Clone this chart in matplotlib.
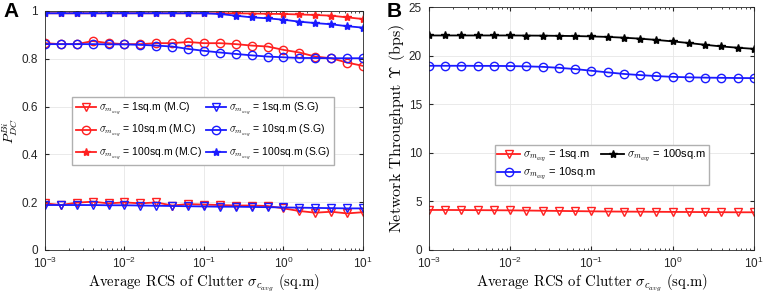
import numpy as np
import matplotlib
matplotlib.use('Agg')
import matplotlib.pyplot as plt

plt.rcParams['font.family'] = ['Liberation Sans', 'DejaVu Sans']
plt.rcParams['mathtext.fontset'] = 'cm'

# x axis: average clutter RCS (sq.m), 5 points per decade
rcs = [1e-3, 1.585e-3, 2.512e-3, 3.981e-3, 6.310e-3,
       1e-2, 1.585e-2, 2.512e-2, 3.981e-2, 6.310e-2,
       1e-1, 1.585e-1, 2.512e-1, 3.981e-1, 6.310e-1,
       1e0, 1.585e0, 2.512e0, 3.981e0, 6.310e0, 1e1]

# Panel A: probability of detection
mc_1 = [0.195, 0.188, 0.198, 0.202, 0.195, 0.199, 0.195, 0.199, 0.186, 0.192, 0.190,
        0.188, 0.186, 0.186, 0.184, 0.174, 0.163, 0.156, 0.160, 0.153, 0.158]
mc_10 = [0.865, 0.861, 0.861, 0.874, 0.865, 0.861, 0.861, 0.865, 0.865, 0.870, 0.865,
         0.865, 0.861, 0.855, 0.851, 0.837, 0.826, 0.809, 0.802, 0.784, 0.770]
mc_100 = [0.990, 0.990, 0.990, 0.990, 0.990, 0.990, 0.990, 0.990, 0.990, 0.990, 0.990,
          0.990, 0.990, 0.989, 0.988, 0.987, 0.985, 0.983, 0.980, 0.973, 0.966]
sg_1 = [0.188, 0.188, 0.188, 0.188, 0.187, 0.187, 0.186, 0.185, 0.184, 0.183, 0.182,
        0.181, 0.181, 0.180, 0.179, 0.178, 0.177, 0.176, 0.175, 0.174, 0.174]
sg_10 = [0.861, 0.861, 0.861, 0.861, 0.860, 0.860, 0.858, 0.855, 0.851, 0.841, 0.833,
         0.826, 0.820, 0.814, 0.809, 0.806, 0.803, 0.803, 0.802, 0.802, 0.802]
sg_100 = [0.990, 0.990, 0.990, 0.990, 0.990, 0.990, 0.990, 0.990, 0.990, 0.990, 0.990,
          0.987, 0.980, 0.973, 0.969, 0.963, 0.955, 0.949, 0.944, 0.936, 0.930]

# Panel B: network throughput (bps)
thr_1 = [4.12, 4.12, 4.11, 4.10, 4.09, 4.08, 4.06, 4.04, 4.02, 4.00, 3.98,
         3.96, 3.95, 3.94, 3.93, 3.92, 3.91, 3.90, 3.89, 3.88, 3.88]
thr_10 = [18.96, 18.96, 18.96, 18.95, 18.95, 18.93, 18.90, 18.85, 18.75, 18.62, 18.45,
          18.28, 18.12, 18.00, 17.90, 17.82, 17.77, 17.74, 17.72, 17.70, 17.69]
thr_100 = [22.08, 22.08, 22.08, 22.08, 22.08, 22.08, 22.07, 22.06, 22.04, 22.02, 21.98,
           21.93, 21.85, 21.75, 21.62, 21.47, 21.30, 21.12, 20.95, 20.82, 20.70]

lbl = r'$\sigma_{m_{avg}}$'
red = '#ff2020'
blue = '#1a1aff'

fig = plt.figure(figsize=(7.68, 2.93), dpi=100)
axA = fig.add_axes([0.0586, 0.1468, 0.414, 0.816])
axB = fig.add_axes([0.5586, 0.1468, 0.423, 0.829])

lw = 1.3
l1, = axA.plot(rcs, mc_1, '-v', color=red, mfc='none', ms=6, lw=lw)
l2, = axA.plot(rcs, mc_10, '-o', color=red, mfc='none', ms=6, lw=lw)
l3, = axA.plot(rcs, mc_100, '-*', color=red, ms=6, lw=lw)
l4, = axA.plot(rcs, sg_1, '-v', color=blue, mfc='none', ms=6, lw=lw)
l5, = axA.plot(rcs, sg_10, '-o', color=blue, mfc='none', ms=6, lw=lw)
l6, = axA.plot(rcs, sg_100, '-*', color=blue, ms=6, lw=lw)
axA.set_ylim(0, 1)
axA.set_yticks([0, 0.2, 0.4, 0.6, 0.8, 1])
axA.set_yticklabels(['0', '0.2', '0.4', '0.6', '0.8', '1'])
axA.set_ylabel(r'$P_{DC}^{Bi}$', fontsize=10, labelpad=1)
axA.legend([l1, l2, l3, l4, l5, l6],
           [lbl + ' = 1sq.m (M.C)', lbl + ' = 10sq.m (M.C)', lbl + ' = 100sq.m (M.C)',
            lbl + ' = 1sq.m (S.G)', lbl + ' = 10sq.m (S.G)', lbl + ' = 100sq.m (S.G)'],
           ncol=2, fontsize=7.5, loc='upper left', bbox_to_anchor=(0.07, 0.66),
           fancybox=False, edgecolor='#b0b0b0', handlelength=1.9, handletextpad=0.3,
           columnspacing=0.4, labelspacing=0.6, borderpad=0.35, framealpha=1)

m1, = axB.plot(rcs, thr_1, '-v', color=red, mfc='none', ms=6, lw=lw)
m2, = axB.plot(rcs, thr_10, '-o', color=blue, mfc='none', ms=6, lw=lw)
m3, = axB.plot(rcs, thr_100, '-*', color='black', ms=6, lw=lw)
axB.set_ylim(0, 25)
axB.set_yticks([0, 5, 10, 15, 20, 25])
axB.set_ylabel(r'Network Throughput $\Upsilon$ (bps)', family='cmr10', fontsize=11.5, labelpad=1)
axB.legend([m1, m2, m3],
           [lbl + ' = 1sq.m', lbl + ' = 10sq.m', lbl + ' = 100sq.m'],
           ncol=2, fontsize=8, loc='upper left', bbox_to_anchor=(0.185, 0.455),
           fancybox=False, edgecolor='#b0b0b0', handlelength=2.0, handletextpad=0.3,
           columnspacing=0.5, labelspacing=0.2, borderpad=0.25, framealpha=1)

for ax in (axA, axB):
    ax.set_xscale('log')
    ax.set_xlim(1e-3, 1e1)
    ax.set_xticks([1e-3, 1e-2, 1e-1, 1e0, 1e1])
    ax.set_xlabel(r'Average RCS of Clutter $\sigma_{c_{avg}}$ (sq.m)', family='cmr10',
                  fontsize=10.6, labelpad=0.5)
    ax.grid(True, which='major', color='#e6e6e6', lw=0.6)
    ax.set_axisbelow(True)
    ax.tick_params(which='both', direction='in', top=True, right=True,
                   labelsize=8.5, colors='#262626')
    ax.tick_params(axis='x', pad=4.5)
    ax.tick_params(axis='y', pad=5)
    ax.tick_params(which='major', length=3)
    ax.tick_params(which='minor', length=1.5)
    for s in ax.spines.values():
        s.set_color('#262626')
        s.set_linewidth(0.6)

fig.text(0.004, 0.993, 'A', fontsize=15, fontweight='bold', va='top', ha='left')
fig.text(0.503, 0.993, 'B', fontsize=15, fontweight='bold', va='top', ha='left')

fig.savefig('out.png', dpi=100)
